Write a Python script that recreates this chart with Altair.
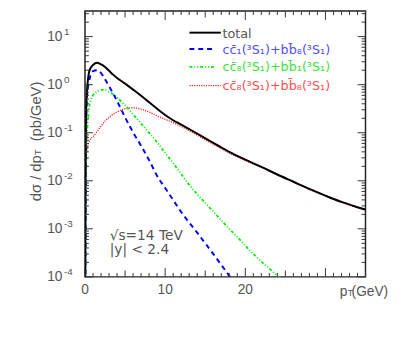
import altair as alt
import pandas as pd

# ---------------- data ----------------
pt_total = [0.03, 0.06, 0.1, 0.15, 0.2, 0.3, 0.4, 0.5, 0.75, 1.0, 1.5, 2.0, 2.5, 3.0, 3.5,
            4.0, 5.0, 6.0, 7.0, 8.0, 9.0, 10, 11, 12, 14, 16, 18, 20, 22, 24, 26, 28, 30, 32, 34, 35]
total = [3.2e-5, 0.01, 0.10, 0.32, 0.56, 0.95, 1.41, 1.82, 2.29, 2.57, 2.85, 2.63, 2.34, 1.95, 1.62,
         1.38, 1.05, 0.79, 0.59, 0.43, 0.316, 0.234, 0.182, 0.148, 0.0955, 0.0617, 0.0398, 0.0275,
         0.0195, 0.0135, 0.00955, 0.00676, 0.0049, 0.00363, 0.00282, 0.00251]

pt_blue = [0.05, 0.1, 0.2, 0.3, 0.43, 0.7, 1.0, 1.5, 2.0, 2.5, 3.0, 3.5, 4.0, 4.5, 5.0,
           6.0, 7.0, 8.0, 9.0, 10, 11, 12, 13, 14, 15, 16, 17, 18, 18.5]
blue = [3.2e-5, 0.025, 0.355, 0.71, 1.0, 1.58, 1.91, 2.0, 1.74, 1.29, 0.93, 0.66, 0.457, 0.31, 0.209,
        0.102, 0.0537, 0.0269, 0.0126, 0.00708, 0.00398, 0.00224, 0.00135, 0.00083, 0.0005,
        0.0003, 0.000178, 0.000105, 0.000079]

pt_green = [0.05, 0.1, 0.2, 0.3, 0.5, 0.75, 1.0, 1.5, 2.0, 2.5, 3.0, 3.5, 4.0, 5.0, 6.0, 7.0,
            8.0, 9.0, 10, 11, 12, 13, 14, 15, 16, 17, 18, 19, 20, 21, 22, 23, 24, 24.5]
green = [3.2e-5, 0.0032, 0.05, 0.126, 0.316, 0.50, 0.60, 0.72, 0.776, 0.776, 0.708, 0.63, 0.537,
         0.372, 0.24, 0.155, 0.100, 0.063, 0.038, 0.0234, 0.0138, 0.0083, 0.00525, 0.00347,
         0.00229, 0.00151, 0.001, 0.00068, 0.000447, 0.0003, 0.000209, 0.000148, 0.000105, 0.000087]

pt_red = [0.03, 0.06, 0.1, 0.2, 0.3, 0.5, 0.75, 1.0, 1.5, 2.0, 2.5, 3.0, 4.0, 5.0, 6.0, 7.0, 8.0,
          9.0, 10, 11, 12, 14, 16, 18, 20, 22, 24, 26, 28, 30, 32, 34, 35]
red = [0.001, 0.01, 0.025, 0.04, 0.05, 0.063, 0.076, 0.083, 0.105, 0.138, 0.174, 0.209, 0.269,
       0.316, 0.331, 0.309, 0.269, 0.224, 0.19, 0.162, 0.135, 0.089, 0.0575, 0.038, 0.0263, 0.019,
       0.0132, 0.0093, 0.0066, 0.0048, 0.00355, 0.00275, 0.00245]

legend_labels = ["total",
                 "cc\u0304\u2081(\u00b3S\u2081)+bb\u0304\u2088(\u00b3S\u2081)",
                 "cc\u0304\u2088(\u00b3S\u2081)+bb\u0304\u2081(\u00b3S\u2081)",
                 "cc\u0304\u2088(\u00b3S\u2081)+bb\u0304\u2088(\u00b3S\u2081)"]

x_label_values = [0, 10, 20]
x_label_texts = ["0", "10", "20"]
y_label_values = [1e-4, 1e-3, 1e-2, 1e-1, 1, 10]
y_label_exps = ["-4", "-3", "-2", "-1", "0", "1"]

x_major = [0.0, 10.0, 20.0, 30.0]
x_mid = [5.0, 15.0, 25.0, 35.0]
x_minor = [float(i) for i in range(1, 35) if i % 5 != 0]
y_major = y_label_values
y_minor = [m * 10.0 ** e for e in range(-4, 2) for m in range(2, 10) if m * 10.0 ** e <= 34]

annot = ["\u221as=14 TeV", "|y| < 2.4"]

# ---------------- styling ----------------
W, H = 286, 271
GRAY = "#555555"
FRAME = "#222222"
TICK = "#333333"
NUMFONT = "Liberation Sans"
TXTFONT = "DejaVu Sans"

xs = alt.Scale(domain=[0, 35], nice=False, zero=False)
ys = alt.Scale(type="log", domain=[1e-4, 34], nice=False)


def curve(pts, vals, **kw):
    df = pd.DataFrame({"pt": pts, "v": vals})
    return alt.Chart(df).mark_line(clip=True, interpolate="monotone", **kw).encode(
        x=alt.X("pt:Q", scale=xs, axis=None),
        y=alt.Y("v:Q", scale=ys, axis=None),
    )


def xticks(vals, length):
    df = pd.DataFrame({"tx": vals})
    base = alt.Chart(df).mark_rule(color=TICK, strokeWidth=1)
    bottom = base.encode(x=alt.X("tx:Q", scale=xs, axis=None), x2="tx:Q",
                         y=alt.value(H), y2=alt.value(H - length))
    top = base.encode(x=alt.X("tx:Q", scale=xs, axis=None), x2="tx:Q",
                      y=alt.value(0), y2=alt.value(length))
    return [bottom, top]


def yticks(vals, length):
    df = pd.DataFrame({"ty": vals})
    base = alt.Chart(df).mark_rule(color=TICK, strokeWidth=1)
    left = base.encode(y=alt.Y("ty:Q", scale=ys, axis=None), y2="ty:Q",
                       x=alt.value(0), x2=alt.value(length))
    right = base.encode(y=alt.Y("ty:Q", scale=ys, axis=None), y2="ty:Q",
                        x=alt.value(W - length), x2=alt.value(W))
    return [left, right]


def label(txt, x, y, **kw):
    df = pd.DataFrame({"label": [txt]})
    return alt.Chart(df).mark_text(**kw).encode(x=alt.value(x), y=alt.value(y), text="label:N")


def legline(x1, x2, y, **kw):
    df = pd.DataFrame({"a": [0]})
    return alt.Chart(df).mark_rule(**kw).encode(x=alt.value(x1), x2=alt.value(x2), y=alt.value(y))


layers = []
layers.append(curve(pt_red, red, color="#ff2020", strokeWidth=1.3, strokeDash=[1.2, 1.2]))
layers.append(curve(pt_green, green, color="#00ee00", strokeWidth=1.8, strokeDash=[3, 2, 1, 2, 1, 2]))
layers.append(curve(pt_blue, blue, color="#0000ff", strokeWidth=2, strokeDash=[5, 4]))
layers.append(curve(pt_total, total, color="#000000", strokeWidth=2))

layers += xticks(x_major, 9) + xticks(x_mid, 6.5) + xticks(x_minor, 4)
layers += yticks(y_major, 8) + yticks(y_minor, 4)

# x tick labels
df_xl = pd.DataFrame({"t": x_label_values, "lab": x_label_texts})
layers.append(alt.Chart(df_xl).mark_text(font=NUMFONT, fontSize=14, color=GRAY, align="center",
                                         baseline="alphabetic").encode(
    x=alt.X("t:Q", scale=xs, axis=None), y=alt.value(288.5), text="lab:N"))

# y tick labels: "10" + exponent
df_yl = pd.DataFrame({"v": y_label_values, "e": y_label_exps})
layers.append(alt.Chart(df_yl).mark_text(font=NUMFONT, fontSize=14, color=GRAY, align="right",
                                         baseline="middle").encode(
    y=alt.Y("v:Q", scale=ys, axis=None), x=alt.value(-23), text=alt.value("10")))
layers.append(alt.Chart(df_yl).mark_text(font=NUMFONT, fontSize=10, color=GRAY, align="left",
                                         baseline="middle", dy=-5).encode(
    y=alt.Y("v:Q", scale=ys, axis=None), x=alt.value(-21.5), text="e:N"))

# x axis title  p_T(GeV)
layers.append(label("p", 267.5, 290, font=NUMFONT, fontSize=14, color=GRAY, align="right", baseline="alphabetic"))
layers.append(label("T", 267.8, 290.5, font=NUMFONT, fontSize=9, color=GRAY, align="left", baseline="alphabetic"))
layers.append(label("(GeV)", 271.8, 290, font=NUMFONT, fontSize=14, color=GRAY, align="left", baseline="alphabetic"))

# y axis title  dσ/dp_T (pb/GeV)
layers.append(label("d\u03c3 / dp", -44.5, 147, font=NUMFONT, fontSize=15, color=GRAY, align="right",
                    baseline="alphabetic", angle=270))
layers.append(label("T", -44.5, 147, font=NUMFONT, fontSize=10, color=GRAY, align="left",
                    baseline="alphabetic", angle=270))
layers.append(label("(pb/GeV)", -44.5, 72, font=NUMFONT, fontSize=15, color=GRAY, align="right",
                    baseline="alphabetic", angle=270))

# legend
layers.append(legline(106.5, 138.5, 22, color="#000000", strokeWidth=2))
layers.append(legline(106.5, 130, 38.7, color="#0000ff", strokeWidth=2, strokeDash=[5, 4]))
layers.append(legline(106.5, 132, 57, color="#00ee00", strokeWidth=1.8, strokeDash=[3, 2, 1, 2, 1, 2]))
layers.append(legline(106.5, 138.5, 76, color="#ff2020", strokeWidth=1.3, strokeDash=[1.2, 1.2]))
leg_colors = [GRAY, "#5050ff", "#40e040", "#ff5050"]
leg_y = [27, 43.6, 61.6, 80]
for t, c, yy in zip(legend_labels, leg_colors, leg_y):
    layers.append(label(t, 140.2, yy, font=TXTFONT, fontSize=13, color=c, align="left", baseline="alphabetic"))

# annotations
layers.append(label(annot[0], 25.2, 233, font=TXTFONT, fontSize=14, color=GRAY, align="left", baseline="alphabetic"))
layers.append(label(annot[1], 25.2, 248, font=TXTFONT, fontSize=14, color=GRAY, align="left", baseline="alphabetic"))

chart = alt.layer(*layers).properties(
    width=W, height=H,
    autosize="none",
    padding={"left": 78.5, "top": 0, "right": 26, "bottom": 50},
).configure_view(stroke=FRAME, strokeWidth=1.5)

chart.save("out.html", embed_options={"renderer": "svg", "actions": False})
